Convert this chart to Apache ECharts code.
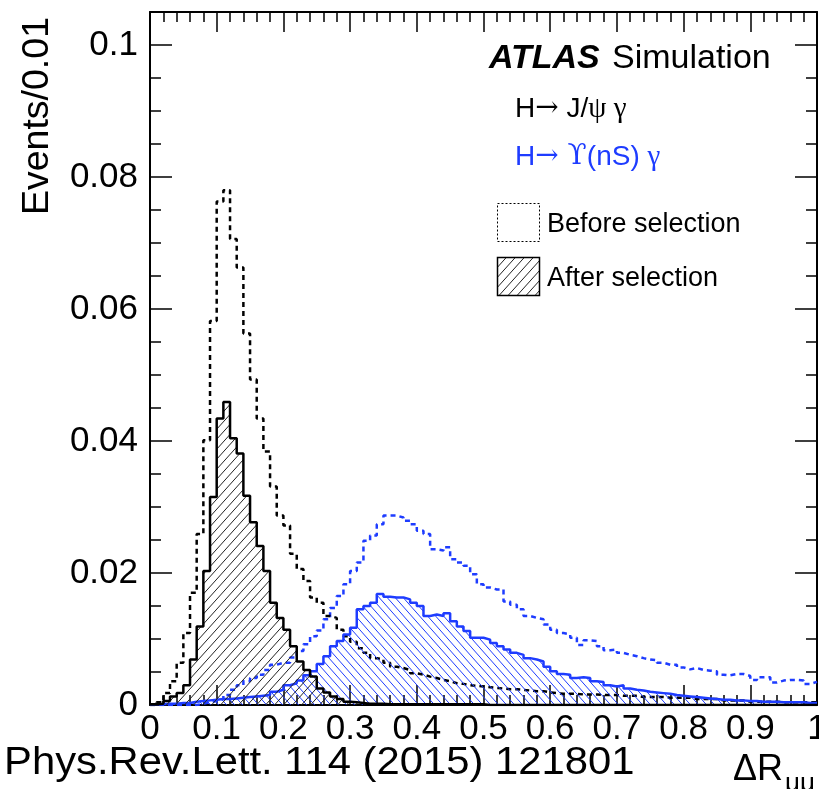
<!DOCTYPE html>
<html>
<head>
<meta charset="utf-8">
<script src="https://cdn.jsdelivr.net/npm/echarts@6/dist/echarts.min.js"></script>
<style>
html,body{margin:0;padding:0;background:#fff;}
#chart{width:819px;height:789px;}
</style>
</head>
<body>
<div id="chart"></div>
<script>
// ---- Data (bin width 0.01, 100 bins from 0 to 1) ----
const binWidth = 0.01;
const xTickLabels = ['0','0.1','0.2','0.3','0.4','0.5','0.6','0.7','0.8','0.9','1'];
const yTickLabels = ['0','0.02','0.04','0.06','0.08','0.1'];

// H -> J/psi gamma, before selection (black dashed)
const jpsiBefore = [
 0.0000,0.0004,0.0018,0.0036,0.0064,0.0109,0.0170,0.0259,0.0401,0.0582,
 0.0763,0.0780,0.0706,0.0663,0.0563,0.0493,0.0434,0.0384,0.0331,0.0287,
 0.0272,0.0229,0.0206,0.0188,0.0163,0.0155,0.0135,0.0132,0.0114,0.0104,
 0.0096,0.0086,0.0079,0.0071,0.0069,0.0064,0.0058,0.0056,0.0053,0.0048,
 0.0046,0.0043,0.0041,0.0038,0.0036,0.0033,0.0032,0.0030,0.0029,0.0028,
 0.0027,0.0026,0.0025,0.0024,0.0024,0.0023,0.0022,0.0021,0.0021,0.0019,
 0.0018,0.0017,0.0017,0.0017,0.0016,0.0016,0.0016,0.0015,0.0015,0.0015,
 0.0014,0.0014,0.0014,0.0012,0.0012,0.0012,0.0012,0.0011,0.0011,0.0011,
 0.0011,0.0009,0.0009,0.0009,0.0009,0.0007,0.0007,0.0007,0.0007,0.0005,
 0.0005,0.0005,0.0005,0.0005,0.0004,0.0004,0.0004,0.0004,0.0004,0.0004
];
// H -> J/psi gamma, after selection (black solid, hatched)
const jpsiAfter = [
 0.0001,0.0002,0.0006,0.0013,0.0018,0.0030,0.0069,0.0119,0.0203,0.0315,
 0.0434,0.0459,0.0404,0.0381,0.0317,0.0277,0.0241,0.0203,0.0155,0.0132,
 0.0114,0.0089,0.0066,0.0053,0.0043,0.0025,0.0019,0.0013,0.0009,0.0005,
 0.0004,0.0003,0.0002,0.0002,0.0002,0.0001,0.0001,0.0001,0.0001,0.0001,
 0.0001,0.0001,0.0001,0.0001,0.0001,0.0001,0.0001,0.0001,0.0001,0.0001,
 0,0,0,0,0,0,0,0,0,0,
 0,0,0,0,0,0,0,0,0,0,
 0,0,0,0,0,0,0,0,0,0,
 0,0,0,0,0,0,0,0,0,0,
 0,0,0,0,0,0,0,0,0,0
];
// H -> Upsilon(nS) gamma, before selection (blue dashed)
const upsBefore = [
 0,0,0,0,0,0,0,0.0002,0.0004,0.0006,
 0.0009,0.0015,0.0023,0.0030,0.0036,0.0041,0.0046,0.0053,0.0061,0.0064,
 0.0064,0.0072,0.0082,0.0092,0.0104,0.0113,0.0130,0.0147,0.0165,0.0183,
 0.0203,0.0216,0.0249,0.0257,0.0274,0.0287,0.0287,0.0284,0.0279,0.0274,
 0.0264,0.0259,0.0236,0.0234,0.0239,0.0221,0.0216,0.0211,0.0198,0.0183,
 0.0178,0.0175,0.0175,0.0157,0.0152,0.0145,0.0135,0.0132,0.0130,0.0122,
 0.0114,0.0109,0.0107,0.0102,0.0091,0.0098,0.0097,0.0089,0.0083,0.0084,
 0.0079,0.0076,0.0074,0.0071,0.0069,0.0068,0.0064,0.0061,0.0061,0.0057,
 0.0054,0.0056,0.0053,0.0052,0.0051,0.0046,0.0045,0.0047,0.0047,0.0044,
 0.0038,0.0042,0.0042,0.0034,0.0037,0.0038,0.0038,0.0037,0.0032,0.0035
];
// H -> Upsilon(nS) gamma, after selection (blue solid, hatched)
const upsAfter = [
 0.0001,0.0001,0.0002,0.0002,0.0003,0.0003,0.0005,0.0006,0.0007,0.0008,
 0.0009,0.0009,0.0010,0.0011,0.0012,0.0013,0.0014,0.0015,0.0020,0.0023,
 0.0030,0.0033,0.0037,0.0045,0.0051,0.0062,0.0074,0.0089,0.0097,0.0107,
 0.0117,0.0145,0.0150,0.0155,0.0168,0.0164,0.0163,0.0163,0.0160,0.0155,
 0.0150,0.0135,0.0137,0.0135,0.0139,0.0127,0.0119,0.0112,0.0102,0.0102,
 0.0099,0.0094,0.0089,0.0084,0.0079,0.0076,0.0071,0.0069,0.0066,0.0058,
 0.0051,0.0047,0.0046,0.0041,0.0042,0.0041,0.0036,0.0035,0.0030,0.0028,
 0.0030,0.0025,0.0023,0.0022,0.0020,0.0019,0.0018,0.0017,0.0015,0.0014,
 0.0013,0.0012,0.0011,0.0010,0.0009,0.0008,0.0008,0.0007,0.0007,0.0006,
 0.0006,0.0005,0.0005,0.0005,0.0004,0.0004,0.0004,0.0004,0.0003,0.0003
];

// ---- Styling ----
const BLUE = '#1e3cff';
const SANS = "'Liberation Sans', Arial, Helvetica, sans-serif";
const SERIF = "'Liberation Serif', 'DejaVu Serif', serif";
const SYM = "'DejaVu Serif', serif";

function hatch(color, w, h, dir, lw) {
  const c = document.createElement('canvas');
  c.width = w; c.height = h;
  const g = c.getContext('2d');
  g.strokeStyle = color; g.lineWidth = lw;
  g.beginPath();
  for (let k = -1; k <= 1; k++) {
    if (dir === '/') { g.moveTo(k * w, h); g.lineTo((k + 1) * w, 0); }
    else { g.moveTo(k * w, 0); g.lineTo((k + 1) * w, h); }
  }
  g.stroke();
  return c;
}
const blackHatch = hatch('#222', 9, 10, '/', 1);
const blueHatch = hatch(BLUE, 8, 9, '\\', 1);

function stepData(vals) {
  const d = vals.map((v, i) => [+(i * binWidth).toFixed(2), v]);
  d.push([+(vals.length * binWidth).toFixed(2), vals[vals.length - 1]]);
  return d;
}

const chart = echarts.init(document.getElementById('chart'), null, {renderer: 'canvas'});

const xMajor = (pos, showLabel) => ({
  type: 'value', min: 0, max: 1, interval: 0.1, position: pos,
  axisLine: {show: true, onZero: false, lineStyle: {color: '#000', width: 2}},
  axisTick: {show: true, inside: true, length: 20, lineStyle: {color: '#000', width: 1.5}},
  minorTick: {show: true, splitNumber: 5, length: 10, lineStyle: {color: '#000', width: 1.5}},
  axisLabel: {show: showLabel, fontSize: 35, fontFamily: SANS, color: '#000', margin: 7,
    showMinLabel: true, showMaxLabel: true, hideOverlap: false,
    formatter: v => xTickLabels[Math.round(v * 10)] ?? ''},
  splitLine: {show: false}, minorSplitLine: {show: false}
});
const yAx = (pos, interval, len, showLine, showLabel) => ({
  type: 'value', min: 0, max: 0.105, interval: interval, position: pos,
  axisLine: {show: showLine, onZero: false, lineStyle: {color: '#000', width: 2}},
  axisTick: {show: true, inside: true, length: len, lineStyle: {color: '#000', width: 1.5}},
  axisLabel: {show: showLabel, fontSize: 35, fontFamily: SANS, color: '#000', margin: 12,
    showMinLabel: true, showMaxLabel: false, hideOverlap: false,
    formatter: v => {
      const k = Math.round(v / 0.02);
      return Math.abs(v - k * 0.02) < 1e-9 ? (yTickLabels[k] ?? '') : '';
    }},
  splitLine: {show: false}
});

const option = {
  animation: false,
  backgroundColor: '#fff',
  grid: {left: 150, right: 2, top: 12, bottom: 84, containLabel: false, outerBoundsMode: 'none'},
  xAxis: [xMajor('bottom', true), xMajor('top', false)],
  yAxis: [
    yAx('left', 0.02, 22, true, true),
    yAx('left', 0.005, 11, false, false),
    yAx('right', 0.02, 22, true, false),
    yAx('right', 0.005, 11, false, false)
  ],
  series: [
    {
      name: 'H→ϒ(nS)γ before selection', type: 'line', step: 'end', symbol: 'none',
      xAxisIndex: 0, yAxisIndex: 0, silent: true, z: 2,
      data: stepData(upsBefore),
      lineStyle: {color: BLUE, width: 2.5, type: [5, 4]}
    },
    {
      name: 'H→J/ψγ before selection', type: 'line', step: 'end', symbol: 'none',
      xAxisIndex: 0, yAxisIndex: 0, silent: true, z: 3,
      data: stepData(jpsiBefore),
      lineStyle: {color: '#000', width: 2.5, type: [5, 4]}
    },
    {
      name: 'H→ϒ(nS)γ after selection', type: 'line', step: 'end', symbol: 'none',
      xAxisIndex: 0, yAxisIndex: 0, silent: true, z: 4,
      data: stepData(upsAfter),
      lineStyle: {color: BLUE, width: 2.5},
      areaStyle: {color: {image: blueHatch, repeat: 'repeat'}, opacity: 1}
    },
    {
      name: 'H→J/ψγ after selection', type: 'line', step: 'end', symbol: 'none',
      xAxisIndex: 0, yAxisIndex: 0, silent: true, z: 5,
      data: stepData(jpsiAfter),
      lineStyle: {color: '#000', width: 2.5},
      areaStyle: {color: {image: blackHatch, repeat: 'repeat'}, opacity: 1}
    }
  ],
  graphic: [
    {type: 'text', x: 38, y: 17, rotation: Math.PI / 2,
      style: {text: 'Events/0.01', font: '37.5px ' + SANS, fill: '#000',
        align: 'right', verticalAlign: 'middle', textAlign: 'right', textVerticalAlign: 'middle'}},
    {type: 'text', x: 4, y: 764, scaleX: 1.1, scaleY: 1,
      style: {text: 'Phys.Rev.Lett. 114 (2015) 121801', font: '38px ' + SANS, fill: '#000',
        align: 'left', verticalAlign: 'middle', textAlign: 'left', textVerticalAlign: 'middle'}},
    {type: 'text', x: 733, y: 770,
      style: {text: 'ΔR', font: '36px ' + SANS, fill: '#000',
        align: 'left', verticalAlign: 'middle', textAlign: 'left', textVerticalAlign: 'middle'}},
    {type: 'text', x: 785, y: 771,
      style: {text: 'μμ', font: '26px ' + SANS, fill: '#000',
        align: 'left', verticalAlign: 'top', textAlign: 'left', textVerticalAlign: 'top'}},
    {type: 'text', x: 489, y: 59,
      style: {text: 'ATLAS', font: 'italic bold 34px ' + SANS, fill: '#000',
        align: 'left', verticalAlign: 'middle', textAlign: 'left', textVerticalAlign: 'middle'}},
    {type: 'text', x: 612, y: 59,
      style: {text: 'Simulation', font: '34px ' + SANS, fill: '#000',
        align: 'left', verticalAlign: 'middle', textAlign: 'left', textVerticalAlign: 'middle'}},
    {type: 'text', x: 515, y: 109,
      style: {text: '{s|H}{a|→}{s| J/}{g|ψ γ}', fill: '#000',
        align: 'left', verticalAlign: 'middle', textAlign: 'left', textVerticalAlign: 'middle',
        rich: {s: {fontSize: 28, fontFamily: SANS, fill: '#000', color: '#000'},
               a: {fontSize: 28, fontFamily: SYM, fill: '#000', color: '#000'},
               g: {fontSize: 29, fontFamily: SERIF, fill: '#000', color: '#000'}}}},
    {type: 'text', x: 515, y: 157,
      style: {text: '{s|H}{a|→ ϒ}{s|(nS) }{g|γ}', fill: BLUE,
        align: 'left', verticalAlign: 'middle', textAlign: 'left', textVerticalAlign: 'middle',
        rich: {s: {fontSize: 28, fontFamily: SANS, fill: BLUE, color: BLUE},
               a: {fontSize: 28, fontFamily: SYM, fill: BLUE, color: BLUE},
               g: {fontSize: 29, fontFamily: SERIF, fill: BLUE, color: BLUE}}}},
    {type: 'rect', shape: {x: 497.5, y: 203.5, width: 42, height: 38},
      style: {fill: 'none', stroke: '#000', lineWidth: 1, lineDash: [2, 2]}},
    {type: 'text', x: 547, y: 225,
      style: {text: 'Before selection', font: '27px ' + SANS, fill: '#000',
        align: 'left', verticalAlign: 'middle', textAlign: 'left', textVerticalAlign: 'middle'}},
    {type: 'rect', shape: {x: 497.5, y: 257.5, width: 42, height: 38},
      style: {fill: {image: blackHatch, repeat: 'repeat'}, stroke: '#000', lineWidth: 1.5}},
    {type: 'text', x: 547, y: 279,
      style: {text: 'After selection', font: '27px ' + SANS, fill: '#000',
        align: 'left', verticalAlign: 'middle', textAlign: 'left', textVerticalAlign: 'middle'}}
  ]
};
chart.setOption(option);
</script>
</body>
</html>
